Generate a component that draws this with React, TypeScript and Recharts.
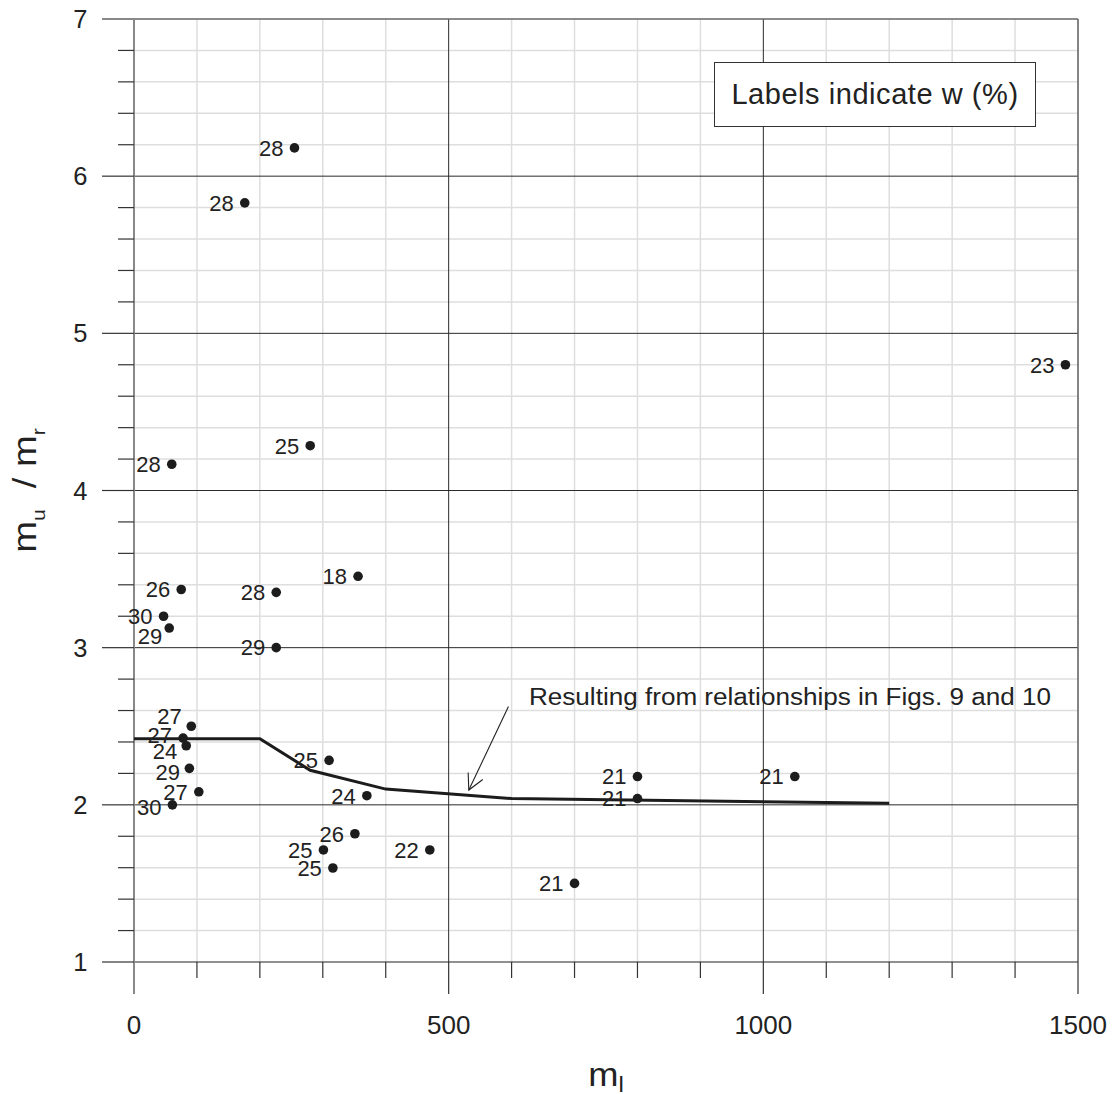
import { ScatterChart, Scatter, XAxis, YAxis, CartesianGrid, ReferenceLine, Label } from 'recharts'

// measured specimens: liquid-limit m_l against the m_u / m_r ratio, labelled by water content
const mlValues = [255, 176, 1480, 280, 60, 356, 75, 226, 47, 56, 226, 91, 78, 83, 88, 103, 61, 310, 370, 351, 301, 316, 470, 700, 800, 800, 1050]
const ratioValues = [6.18, 5.83, 4.8, 4.285, 4.167, 3.454, 3.37, 3.352, 3.2, 3.125, 3.0, 2.5, 2.425, 2.376, 2.232, 2.083, 2.0, 2.283, 2.058, 1.816, 1.713, 1.598, 1.713, 1.5, 2.18, 2.04, 2.18]
const waterContent = [28, 28, 23, 25, 28, 18, 26, 28, 30, 29, 29, 27, 27, 24, 29, 27, 30, 25, 24, 26, 25, 25, 22, 21, 21, 21, 21]

// curve derived from the Fig. 9 / Fig. 10 relationships
const relationMl = [0, 200, 280, 400, 600, 1200]
const relationRatio = [2.42, 2.42, 2.22, 2.1, 2.04, 2.01]

const xTicks = [0, 100, 200, 300, 400, 500, 600, 700, 800, 900, 1000, 1100, 1200, 1300, 1400, 1500]
const yTicks = [1, 1.2, 1.4, 1.6, 1.8, 2, 2.2, 2.4, 2.6, 2.8, 3, 3.2, 3.4, 3.6, 3.8, 4, 4.2, 4.4, 4.6, 4.8, 5, 5.2, 5.4, 5.6, 5.8, 6, 6.2, 6.4, 6.6, 6.8, 7]

const relationNote = 'Resulting from relationships in Figs. 9 and 10'
const arrowSegment = [
  { x: 595, y: 2.625 },
  { x: 532, y: 2.094 },
]

const FONT = '"Liberation Sans", Arial, Helvetica, sans-serif'
const INK = '#1c1c1c'

const isMajorY = (v: number) => Math.abs(v - Math.round(v)) < 1e-6

const points = mlValues.map((x, i) => ({ x, y: ratioValues[i], w: waterContent[i], i }))
const relation = relationMl.map((x, i) => ({ x, y: relationRatio[i] }))

const minorX = xTicks.filter((v) => v % 500 !== 0)
const minorY = yTicks.filter((v) => !isMajorY(v))

// a few labels in the crowded cluster near the origin are nudged off their default spot
const labelNudge: Record<number, [number, number]> = {
  9: [4, 8],
  11: [1.5, -10.5],
  12: [0, -3],
  13: [2, 5],
  14: [1.5, 4],
  16: [0, 2],
}

function LabelledDot(props: any) {
  const { cx, cy, payload } = props
  const [dx, dy] = labelNudge[payload.i] ?? [0, 0]
  return (
    <g>
      <circle cx={cx} cy={cy} r={4.8} fill={INK} />
      <text x={cx - 11 + dx} y={cy + 7.8 + dy} textAnchor="end" fontSize={22} fill="#222" fontFamily={FONT}>
        {payload.w}
      </text>
    </g>
  )
}

function XTick(props: any) {
  const { x, y, payload } = props
  const v = payload.value
  const major = v % 500 === 0
  const edge = v === 0
  return (
    <g>
      <line x1={x} y1={y} x2={x} y2={y + (major ? 32 : 16)} stroke={edge ? '#888' : '#333'} strokeWidth={edge ? 2 : 1.2} />
      {major && (
        <text x={x} y={y + 72} textAnchor="middle" fontSize={26} fill="#222" fontFamily={FONT}>
          {v}
        </text>
      )}
    </g>
  )
}

function YTick(props: any) {
  const { x, y, payload } = props
  const v = payload.value
  const major = isMajorY(v)
  return (
    <g>
      <line x1={x - (major ? 32 : 16)} y1={y} x2={x} y2={y} stroke={v === 7 ? '#888' : '#333'} strokeWidth={v === 7 ? 2 : 1.2} />
      {major && (
        <text x={x - 46.5} y={y + 9} textAnchor="end" fontSize={25.5} fill="#222" fontFamily={FONT}>
          {v}
        </text>
      )}
    </g>
  )
}

function XTitle(props: any) {
  const { viewBox } = props
  const cx = viewBox.x + viewBox.width / 2
  return (
    <text
      transform={`translate(${cx}, ${viewBox.y + 124}) scale(1.1, 1)`}
      textAnchor="middle"
      fontSize={33}
      fill="#222"
      fontFamily={FONT}
    >
      m
      <tspan fontSize={22} dy={6}>
        l
      </tspan>
    </text>
  )
}

function YTitle(props: any) {
  const { viewBox } = props
  const cy = viewBox.y + viewBox.height / 2
  return (
    <text
      transform={`translate(36, ${cy}) rotate(-90) scale(1.12, 1)`}
      textAnchor="middle"
      fontSize={34}
      fill="#222"
      fontFamily={FONT}
    >
      m
      <tspan fontSize={19} dy={9}>
        u
      </tspan>
      <tspan dy={-9}>{'\u00a0\u00a0/ m'}</tspan>
      <tspan fontSize={19} dy={9}>
        r
      </tspan>
    </text>
  )
}

function ArrowNote(props: any) {
  const { x1, y1, x2, y2 } = props
  const ang = Math.atan2(y2 - y1, x2 - x1)
  const len = 17.5
  const spread = 0.48
  const a = [x2 - len * Math.cos(ang - spread), y2 - len * Math.sin(ang - spread)]
  const b = [x2 - len * Math.cos(ang + spread), y2 - len * Math.sin(ang + spread)]
  return (
    <g>
      <line x1={x1} y1={y1} x2={x2} y2={y2} stroke="#222" strokeWidth={1.1} />
      <polyline points={`${a[0]},${a[1]} ${x2},${y2} ${b[0]},${b[1]}`} fill="none" stroke="#222" strokeWidth={1.1} />
      <text
        x={x1 + 20.5}
        y={y1 - 1.5}
        fontSize={23.5}
        fill="#222"
        fontFamily={FONT}
        textLength={522}
        lengthAdjust="spacingAndGlyphs"
      >
        {relationNote}
      </text>
    </g>
  )
}

export default function App() {
  return (
    <div style={{ position: 'relative', width: 1112, height: 1094, background: '#fff' }}>
      <style>{'body{margin:0;background:#fff}'}</style>
      <ScatterChart width={1112} height={1094} margin={{ top: 19, right: 34, bottom: 0, left: 0 }}>
        <CartesianGrid horizontalValues={minorY} verticalValues={minorX} stroke="#dedede" strokeWidth={1.5} />
        <CartesianGrid horizontalValues={[2, 3, 4, 5, 6]} verticalValues={[500, 1000]} stroke="#2a2a2a" strokeWidth={1} />
        <CartesianGrid horizontalValues={[7]} verticalValues={[1500]} stroke="#666" strokeWidth={1.6} />
        <XAxis
          type="number"
          dataKey="x"
          domain={[0, 1500]}
          ticks={xTicks}
          interval={0}
          tickSize={0}
          tickMargin={0}
          tickLine={false}
          tick={<XTick />}
          axisLine={{ stroke: '#222', strokeWidth: 1.2 }}
          height={132}
        >
          <Label content={<XTitle />} />
        </XAxis>
        <YAxis
          type="number"
          dataKey="y"
          domain={[1, 7]}
          ticks={yTicks}
          interval={0}
          tickSize={0}
          tickMargin={0}
          tickLine={false}
          tick={<YTick />}
          axisLine={{ stroke: '#888', strokeWidth: 2 }}
          width={134}
        >
          <Label content={<YTitle />} />
        </YAxis>
        <ReferenceLine segment={arrowSegment} shape={<ArrowNote />} ifOverflow="visible" />
        <Scatter
          data={relation}
          line={{ stroke: INK, strokeWidth: 3 }}
          shape={() => <g />}
          legendType="none"
          isAnimationActive={false}
        />
        <Scatter data={points} shape={<LabelledDot />} legendType="none" isAnimationActive={false} />
      </ScatterChart>
      <div
        style={{
          position: 'absolute',
          left: 714,
          top: 62,
          width: 320,
          height: 63,
          border: '1px solid #333',
          background: '#fff',
          display: 'flex',
          alignItems: 'center',
          justifyContent: 'center',
          fontFamily: FONT,
          fontSize: 29,
          letterSpacing: 0.55,
          color: '#222',
        }}
      >
        Labels indicate w (%)
      </div>
    </div>
  )
}
